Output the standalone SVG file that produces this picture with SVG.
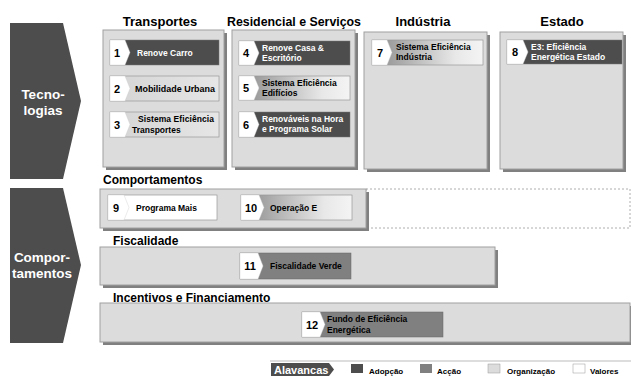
<svg xmlns="http://www.w3.org/2000/svg" width="631" height="376" viewBox="0 0 631 376">
<defs>
<linearGradient id="gr" x1="0" y1="0" x2="1" y2="0">
<stop offset="0" stop-color="#8a8a8a"/>
<stop offset="0.75" stop-color="#e8e8e8"/>
<stop offset="1" stop-color="#f4f4f4"/>
</linearGradient>
<linearGradient id="lg" x1="0" y1="0" x2="1" y2="0">
<stop offset="0" stop-color="#d4d4d4"/>
<stop offset="1" stop-color="#e6e6e6"/>
</linearGradient>
</defs>
<style>
.bg{fill:#fff}
.arrow{fill:#4d4d4d}
.atx{font-family:"Liberation Sans",Arial,sans-serif;font-weight:bold;font-size:13.5px;fill:#fff;text-anchor:middle}
.cat{fill:#dcdcdc;stroke:#a0a0a0;stroke-width:1}
.sh{fill:#808080}
.ttl{font-family:"Liberation Sans",Arial,sans-serif;font-weight:bold;font-size:13px;fill:#000}
.sub{font-family:"Liberation Sans",Arial,sans-serif;font-weight:bold;font-size:12px;fill:#000}
.ad{fill:#4d4d4d;stroke:#777;stroke-width:0.5}
.ac{fill:#808080;stroke:#666;stroke-width:0.5}
.og{fill:url(#lg);stroke:#999;stroke-width:0.7}
.gd{fill:url(#gr);stroke:#999;stroke-width:0.7}
.va{fill:#fff;stroke:#999;stroke-width:0.7}
.tab{fill:#fff;stroke:#ccc;stroke-width:0.4}
.num{font-family:"Liberation Sans",Arial,sans-serif;font-weight:bold;font-size:11px;fill:#000;text-anchor:middle}
.it{font-family:"Liberation Sans",Arial,sans-serif;font-weight:bold;font-size:8.5px;fill:#000}
.itw{font-family:"Liberation Sans",Arial,sans-serif;font-weight:bold;font-size:8.5px;fill:#fff}
.lg{font-family:"Liberation Sans",Arial,sans-serif;font-weight:bold;font-size:8px;fill:#000}
</style>
<rect class="bg" width="631" height="376"/>

<g id="tecnologias">
<polygon class="arrow" points="10,23 63,23 81,101 63,179 10,179"/>
<text class="atx" x="43" y="99">Tecno-</text>
<text class="atx" x="43" y="115">logias</text>
</g>
<g id="comportamentos-arrow">
<polygon class="arrow" points="10,188 63,188 81,265 63,343 10,343"/>
<text class="atx" x="42" y="262">Compor-</text>
<text class="atx" x="42" y="278">tamentos</text>
</g>

<g id="transportes">
<text class="ttl" x="160" y="26" text-anchor="middle">Transportes</text>
<rect class="sh" x="106" y="33" width="121" height="137"/>
<rect class="cat" x="103" y="30" width="121" height="137"/>
</g>
<g id="residencial">
<text class="ttl" x="294" y="26" text-anchor="middle" textLength="134" lengthAdjust="spacingAndGlyphs">Residencial e Serviços</text>
<rect class="sh" x="235" y="33" width="123" height="137"/>
<rect class="cat" x="232" y="30" width="123" height="137"/>
</g>
<g id="industria">
<text class="ttl" x="423" y="26" text-anchor="middle">Indústria</text>
<rect class="sh" x="367" y="35" width="123" height="137"/>
<rect class="cat" x="364" y="32" width="123" height="137"/>
</g>
<g id="estado">
<text class="ttl" x="562" y="26" text-anchor="middle">Estado</text>
<rect class="sh" x="503" y="35" width="123" height="137"/>
<rect class="cat" x="500" y="32" width="123" height="137"/>
</g>

<g id="item1">
<rect class="ad" x="110" y="40" width="109" height="25"/>
<polygon class="tab" points="110,40 125,40 130,52.5 125,65 110,65"/>
<text class="num" x="117" y="57">1</text>
<text class="itw" x="137" y="56">Renove  Carro</text>
</g>
<g id="item2">
<rect class="og" x="110" y="76" width="109" height="25"/>
<polygon class="tab" points="110,76 125,76 130,88.5 125,101 110,101"/>
<text class="num" x="117" y="93">2</text>
<text class="it" x="135" y="92" textLength="80" lengthAdjust="spacingAndGlyphs">Mobilidade Urbana</text>
</g>
<g id="item3">
<rect class="og" x="110" y="112" width="109" height="25"/>
<polygon class="tab" points="110,112 125,112 130,124.5 125,137 110,137"/>
<text class="num" x="117" y="129">3</text>
<text class="it" x="138" y="122" textLength="76" lengthAdjust="spacing">Sistema Eficiência</text>
<text class="it" x="132" y="133">Transportes</text>
</g>

<g id="item4">
<rect class="ad" x="239" y="41" width="111" height="24"/>
<polygon class="tab" points="239,41 254,41 259,53 254,65 239,65"/>
<text class="num" x="246" y="57">4</text>
<text class="itw" x="262" y="51">Renove Casa &amp;</text>
<text class="itw" x="262" y="61">Escritório</text>
</g>
<g id="item5">
<rect class="gd" x="239" y="76" width="111" height="24"/>
<polygon class="tab" points="239,76 254,76 259,88 254,100 239,100"/>
<text class="num" x="246" y="92">5</text>
<text class="it" x="262" y="86">Sistema Eficiência</text>
<text class="it" x="262" y="96">Edifícios</text>
</g>
<g id="item6">
<rect class="ad" x="239" y="112" width="111" height="25"/>
<polygon class="tab" points="239,112 254,112 259,124.5 254,137 239,137"/>
<text class="num" x="246" y="129">6</text>
<text class="itw" x="262" y="122">Renováveis na Hora</text>
<text class="itw" x="262" y="132">e Programa Solar</text>
</g>

<g id="item7">
<rect class="gd" x="372" y="40" width="111" height="25"/>
<polygon class="tab" points="372,40 387,40 392,52.5 387,65 372,65"/>
<text class="num" x="380" y="57">7</text>
<text class="it" x="396" y="50">Sistema Eficiência</text>
<text class="it" x="396" y="60">Indústria</text>
</g>
<g id="item8">
<rect class="ad" x="507" y="40" width="115" height="24"/>
<polygon class="tab" points="507,40 523,40 528,52 523,64 507,64"/>
<text class="num" x="515" y="56">8</text>
<text class="itw" x="531" y="50">E3: Eficiência</text>
<text class="itw" x="531" y="60">Energética Estado</text>
</g>

<g id="comportamentos">
<text class="sub" x="103" y="184">Comportamentos</text>
<rect x="366" y="189" width="264" height="39" fill="none" stroke="#999" stroke-width="0.8" stroke-dasharray="2,2"/>
<rect class="sh" x="103" y="192" width="266" height="39"/>
<rect class="cat" x="100" y="189" width="266" height="39"/>
</g>
<g id="item9">
<rect class="va" x="108" y="195" width="109" height="25"/>
<polygon class="tab" points="108,195 124,195 129,207.5 124,220 108,220"/>
<text class="num" x="116" y="212">9</text>
<text class="it" x="136" y="211">Programa Mais</text>
</g>
<g id="item10">
<rect class="gd" x="241" y="195" width="111" height="25"/>
<polygon class="tab" points="241,195 259,195 264,207.5 259,220 241,220"/>
<text class="num" x="251" y="212">10</text>
<text class="it" x="270" y="211">Operação E</text>
</g>

<g id="fiscalidade">
<text class="sub" x="113" y="245">Fiscalidade</text>
<rect class="sh" x="103" y="250" width="395" height="38"/>
<rect class="cat" x="100" y="247" width="395" height="38"/>
</g>
<g id="item11">
<rect class="ac" x="240" y="253" width="111" height="26"/>
<polygon class="tab" points="240,253 258,253 263,266 258,279 240,279"/>
<text class="num" x="250" y="270">11</text>
<text class="it" x="270" y="269">Fiscalidade Verde</text>
</g>

<g id="incentivos">
<text class="sub" x="113" y="302">Incentivos e Financiamento</text>
<rect class="sh" x="103" y="306" width="528" height="39"/>
<rect class="cat" x="100" y="303" width="530" height="39"/>
</g>
<g id="item12">
<rect class="ac" x="302" y="312" width="141" height="25"/>
<polygon class="tab" points="302,312 320,312 325,324.5 320,337 302,337"/>
<text class="num" x="312" y="329">12</text>
<text class="it" x="327" y="322">Fundo de Eficiência</text>
<text class="it" x="327" y="333">Energética</text>
</g>

<g id="legend">
<line x1="270" y1="361" x2="631" y2="361" stroke="#bbb" stroke-width="1"/>
<polygon class="arrow" points="271,363 329,363 334,369.5 329,376 271,376"/>
<text x="274" y="374" font-family="Liberation Sans, Arial, sans-serif" font-weight="bold" font-size="11" fill="#fff">Alavancas</text>
<rect x="351" y="364" width="12" height="9" fill="#4d4d4d"/>
<text class="lg" x="369" y="374">Adopção</text>
<rect x="420" y="364" width="12" height="9" fill="#808080"/>
<text class="lg" x="437" y="374">Acção</text>
<rect x="488" y="364" width="12" height="9" fill="#dcdcdc" stroke="#999" stroke-width="0.5"/>
<text class="lg" x="507" y="374">Organização</text>
<rect x="573" y="364" width="12" height="9" fill="#fff" stroke="#999" stroke-width="0.5"/>
<text class="lg" x="590" y="374">Valores</text>
</g>
</svg>
